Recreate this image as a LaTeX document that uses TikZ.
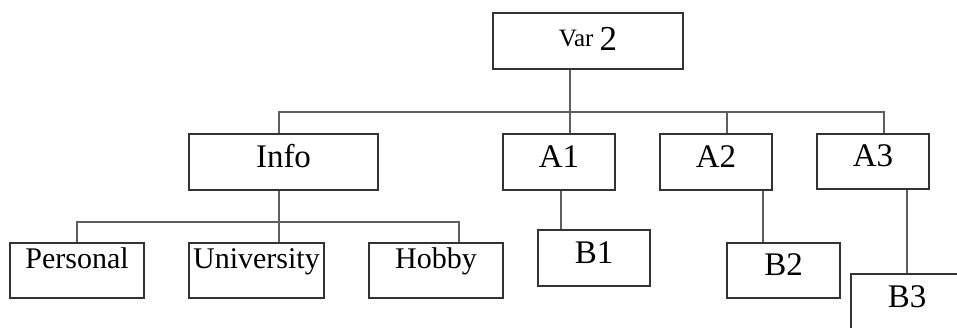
\documentclass[tikz,border=0pt]{standalone}
\usepackage{fontspec}
\setmainfont{Liberation Serif}
\definecolor{boxc}{HTML}{333333}
\definecolor{linec}{HTML}{5E5E5E}
\tikzset{
  box/.style={draw=boxc, line width=1.8pt, fill=white, inner sep=0pt, minimum height=56pt},
  conn/.style={draw=linec, line width=1.8pt},
  big/.style={font=\fontsize{33}{37}\selectfont, text height=22pt, text depth=12pt},
  small/.style={font=\fontsize{30}{34}\selectfont, text height=18pt, text depth=23pt},
}
\begin{document}
\begin{tikzpicture}[x=1pt,y=-1pt]
\clip (0,0) rectangle (957,327);
\fill[white] (0,0) rectangle (957,327);
% boxes
\node[box, minimum width=190pt, text height=24pt, text depth=6pt] (var2) at (588,41)
  {{\fontsize{25}{28}\selectfont\raisebox{4pt}{Var} }{\fontsize{35}{38}\selectfont 2}};
\node[box,big,minimum width=189pt] (info) at (283.5,162) {Info};
\node[box,small,minimum width=134pt,minimum height=55pt] (personal) at (77,270.5) {Personal};
\node[box,small,minimum width=135pt,minimum height=55pt] (university) at (256.5,270.5) {University};
\node[box,small,minimum width=134pt,minimum height=55pt] (hobby) at (436,270.5) {Hobby};
\node[box,big,minimum width=112pt] (a1) at (559,162) {A1};
\node[box,big,minimum width=112pt] (a2) at (716,162) {A2};
\node[box,big,minimum width=112pt,minimum height=55pt] (a3) at (873,161.5) {A3};
\node[box,big,minimum width=112pt] (b1) at (594,258) {B1};
\node[box,big,minimum width=113pt,minimum height=55pt] (b2) at (783.5,270.5) {B2};
\node[box,big,minimum width=112pt] (b3) at (907,302) {B3};
% junction points
\coordinate (j0) at (570,112);
\coordinate (jl) at (279,112);
\coordinate (jr) at (884,112);
\coordinate (j2) at (727,112);
\coordinate (k0) at (279,222);
\coordinate (kr) at (459,222);
\coordinate (m1) at (561,210);
\coordinate (m2) at (763,210);
% connectors
\draw[conn] (var2.south -| j0) -- (a1.north -| j0);
\draw[conn] (info.north -| jl) -- (jl) -- (jr) -- (a3.north -| jr);
\draw[conn] (j2) -- (a2.north -| j2);
\draw[conn] (info.south -| k0) -- (university.north -| k0);
\draw[conn] (personal.north) |- (kr) -- (hobby.north -| kr);
\draw[conn] (a1.south -| m1) -- (b1.north -| m1);
\draw[conn] (a2.south -| m2) -- (b2.north -| m2);
\draw[conn] (a3.south -| b3.north) -- (b3.north);
\end{tikzpicture}
\end{document}
